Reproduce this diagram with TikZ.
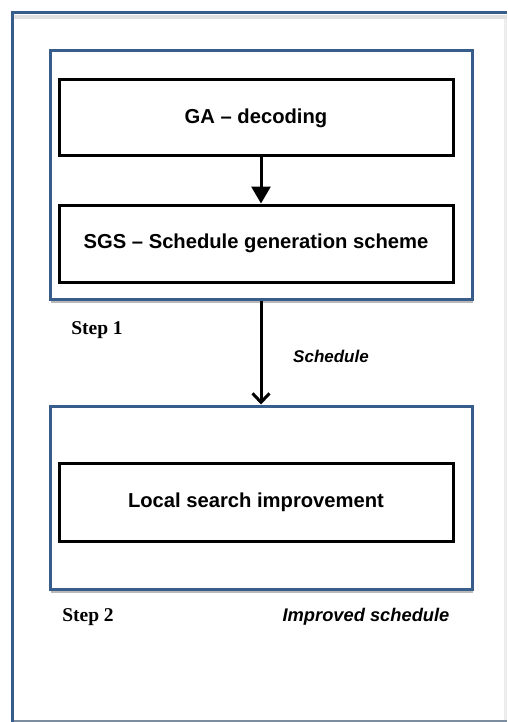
\documentclass[tikz,border=0pt]{standalone}
\usepackage{fontspec}
\setmainfont{Liberation Sans}
\newfontfamily\stepfont{Liberation Serif}
\usetikzlibrary{arrows.meta,shadows}

\definecolor{frameblue}{RGB}{56,93,138}

\tikzset{
  stepframe/.style={draw=frameblue, line width=3pt, fill=white,
    drop shadow={shadow xshift=1pt, shadow yshift=-4pt, opacity=.5, fill=black!55}},
  procbox/.style={draw=black, line width=3pt, fill=white,
    minimum width=394pt, font=\bfseries\fontsize{20.2}{24}\selectfont},
  steplabel/.style={font=\stepfont\bfseries\fontsize{19.5}{23}\selectfont},
  flowlabel/.style={font=\bfseries\itshape\fontsize{17}{20}\selectfont},
  flow/.style={line width=3pt}
}

\begin{document}
\begin{tikzpicture}[x=1pt, y=-1pt]
    \useasboundingbox (0,0) rectangle (507,722);
    \clip (0,0) rectangle (507,722);

    % Outer page frame, cut off on the right and at the bottom
    \fill[black!7] (504,16) rectangle (507,722);
    \fill[black!12] (14,15) rectangle (507,19);
    \draw[frameblue!70!black!60, line width=2pt] (12,721) -- (507,721);
    \draw[frameblue, line width=3pt] (12,722) -- (12,13) -- (507,13);

    % Step 1: decoding and schedule generation
    \node[stepframe, minimum width=422pt, minimum height=248pt] (step1) at (261,175) {};
    \node[procbox, minimum height=76pt] (ga) at (256,118) {GA -- decoding};
    \node[procbox, minimum height=77pt] (sgs) at (256,243.5) {SGS -- Schedule generation scheme};

    % Step 2: local search
    \node[stepframe, minimum width=422pt, minimum height=183pt] (step2) at (261,497.5) {};
    \node[procbox, minimum height=78pt] (ls) at (256,502) {Local search improvement};

    % Arrows
    \draw[flow, -{Triangle[length=17pt, width=19pt]}]
        ([xshift=5pt]ga.south) -- ([xshift=5pt]sgs.north);
    \draw[flow, -{Straight Barb[length=9pt, width=17pt, line width=3pt]}]
        (step1.south) -- (step2.north);

    % Labels
    \node[steplabel] (s1) at (97,330) {Step 1};
    \node[flowlabel] (sched) at (331,356) {Schedule};
    \node[steplabel] (s2) at (88,617) {Step 2};
    \node[flowlabel, font=\bfseries\itshape\fontsize{18.3}{22}\selectfont] (impr) at (366,617) {Improved schedule};
\end{tikzpicture}
\end{document}
